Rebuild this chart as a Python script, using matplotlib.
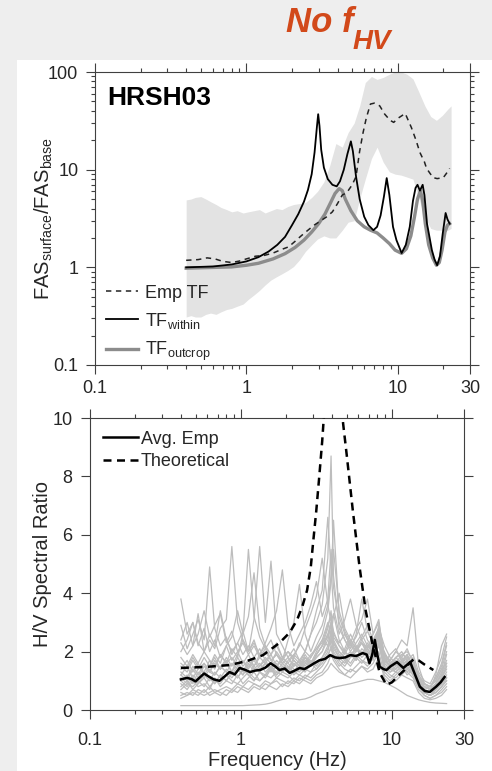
import matplotlib
matplotlib.use('Agg')
import matplotlib.pyplot as plt
from matplotlib.lines import Line2D
from matplotlib.patches import Rectangle
from matplotlib.ticker import FixedLocator, FixedFormatter, NullFormatter

plt.rcParams['font.family'] = 'Liberation Sans'
plt.rcParams['mathtext.fontset'] = 'custom'
plt.rcParams['mathtext.rm'] = 'Liberation Sans'
plt.rcParams['mathtext.it'] = 'Liberation Sans:italic'
plt.rcParams['mathtext.bf'] = 'Liberation Sans:bold'

# ---------------- top panel: transfer functions ----------------
band_f = [0.40, 0.43, 0.46, 0.50, 0.54, 0.58, 0.63, 0.68, 0.74, 0.80, 0.87, 0.95,
          1.03, 1.12, 1.22, 1.33, 1.45, 1.58, 1.72, 1.88, 2.05, 2.25, 2.45, 2.70,
          2.95, 3.25, 3.55, 3.90, 4.30, 4.70, 5.15, 5.60, 6.10, 6.70, 7.30, 8.00,
          8.80, 9.60, 10.5, 11.5, 12.6, 13.8, 15.1, 16.5, 18.0, 19.7, 21.5, 22.5]
band_hi = [4.9, 5.0, 5.2, 5.3, 5.0, 4.7, 4.4, 4.1, 3.9, 3.7, 3.8, 3.6,
           3.7, 3.8, 3.9, 3.6, 3.8, 4.0, 3.9, 4.2, 4.4, 4.5, 4.6, 5.2,
           6.0, 7.5, 11.0, 18.5, 17.0, 24, 30, 45, 78, 90, 84, 88,
           95, 100, 100, 95, 85, 62, 45, 35, 32, 36, 42, 45]
band_lo = [0.31, 0.32, 0.31, 0.31, 0.33, 0.34, 0.33, 0.35, 0.37, 0.38, 0.40, 0.42,
           0.47, 0.52, 0.58, 0.66, 0.74, 0.80, 0.86, 0.93, 1.02, 1.20, 1.45, 1.70,
           1.95, 2.10, 2.00, 2.00, 2.40, 2.90, 3.00, 5.00, 8.00, 13.0, 17.0, 12.0,
           9.5, 9.0, 8.8, 8.4, 8.0, 5.0, 3.3, 2.5, 2.4, 2.4, 2.4, 2.5]

emp_f = [0.40, 0.48, 0.55, 0.62, 0.70, 0.80, 0.90, 1.00, 1.15, 1.30, 1.50, 1.70,
         1.90, 2.10, 2.30, 2.55, 2.80, 3.10, 3.40, 3.70, 4.00, 4.30, 4.60, 5.00,
         5.30, 5.60, 5.90, 6.20, 6.60, 7.00, 7.60, 8.20, 8.90, 9.40, 10.0, 11.2,
         12.3, 13.2, 14.0, 15.0, 15.5, 16.3, 17.1, 18.2, 19.2, 20.0, 21.0, 22.0]
emp_v = [1.18, 1.20, 1.25, 1.22, 1.15, 1.12, 1.16, 1.22, 1.30, 1.32, 1.40, 1.52,
         1.62, 1.85, 2.10, 2.40, 2.70, 3.00, 3.30, 3.70, 4.50, 5.50, 5.80, 7.00,
         8.50, 15.5, 24, 34, 47, 48, 45, 37, 32, 30.5, 33.5, 37.6,
         27, 20, 15, 12, 10.3, 9.2, 8.3, 8.1, 8.2, 8.3, 9.2, 10.3]

within_f = [0.40, 0.60, 0.80, 1.00, 1.20, 1.40, 1.60, 1.80, 2.00, 2.20, 2.40, 2.55,
            2.70, 2.82, 2.92, 2.98, 3.04, 3.12, 3.25, 3.45, 3.70, 3.95, 4.15, 4.40,
            4.65, 4.90, 5.05, 5.30, 5.60, 6.00, 6.40, 6.90, 7.30, 7.70, 8.10, 8.45,
            8.80, 9.30, 9.80, 10.6, 11.3, 12.0, 12.6, 13.1, 13.5, 14.0, 14.6, 15.0,
            15.6, 16.8, 17.5, 18.2, 19.0, 19.8, 20.7, 21.3, 22.0]
within_v = [1.00, 1.02, 1.07, 1.15, 1.27, 1.45, 1.70, 2.05, 2.70, 3.50, 4.70, 6.2,
            9.0, 15.0, 27, 37, 28, 16, 10.5, 8.0, 7.0, 6.75, 7.6, 10.0,
            14.5, 19.5, 15.5, 8.5, 5.0, 3.3, 2.7, 2.4, 2.6, 3.4, 5.3, 8.2,
            5.5, 2.6, 1.9, 1.4, 1.7, 2.6, 4.8, 6.5, 7.0, 6.1, 7.0, 5.5,
            2.8, 1.5, 1.2, 1.05, 1.3, 2.2, 3.6, 3.1, 2.8]

outcrop_f = [0.40, 0.80, 1.00, 1.20, 1.50, 1.80, 2.10, 2.40, 2.70, 3.00, 3.30, 3.60,
             3.85, 4.10, 4.30, 4.50, 4.90, 5.40, 6.00, 6.60, 7.30, 8.00, 8.80, 9.60,
             10.6, 11.4, 12.2, 12.9, 13.5, 14.1, 14.6, 15.2, 16.0, 17.0, 18.0, 18.8,
             19.6, 20.5, 21.3, 22.0]
outcrop_v = [0.98, 1.01, 1.05, 1.10, 1.22, 1.38, 1.60, 1.90, 2.30, 2.80, 3.50, 4.60,
             5.70, 6.40, 6.10, 5.00, 3.80, 3.00, 2.60, 2.40, 2.25, 2.00, 1.75, 1.50,
             1.39, 1.55, 2.10, 3.30, 5.00, 6.10, 4.80, 2.80, 1.70, 1.25, 1.05, 1.12,
             1.50, 2.30, 2.70, 2.80]

# ---------------- bottom panel: H/V spectral ratios ----------------
hv_f = [0.40, 0.44, 0.48, 0.52, 0.57, 0.62, 0.67, 0.73, 0.80, 0.87, 0.95, 1.03,
        1.12, 1.22, 1.33, 1.45, 1.58, 1.72, 1.88, 2.05, 2.24, 2.44, 2.66, 2.90,
        3.16, 3.45, 3.76, 3.95, 4.10, 4.47, 4.87, 5.31, 5.79, 6.31, 6.88, 7.50,
        8.18, 8.91, 9.72, 10.6, 11.6, 12.6, 13.8, 15.0, 16.4, 17.9, 19.5, 21.3, 23.0]

hv_records = [
    [3.8, 2.6, 3.0, 2.2, 2.8, 2.0, 2.4, 1.8, 2.2, 1.7, 2.0, 1.6, 1.9, 1.5, 1.8, 1.6, 1.4,
     1.7, 1.5, 1.3, 1.6, 1.4, 1.7, 1.5, 1.8, 2.0, 2.6, 2.2, 1.9, 1.7, 2.0, 1.8, 2.2, 1.9,
     2.1, 1.8, 2.6, 1.7, 1.5, 1.8, 1.6, 1.9, 1.4, 1.1, 0.9, 0.8, 1.0, 1.4, 1.6],
    [2.9, 2.1, 2.6, 3.1, 2.4, 4.9, 2.8, 2.2, 2.5, 1.9, 2.3, 2.7, 2.0, 2.4, 1.8, 2.1, 1.7,
     1.9, 1.6, 1.4, 1.7, 1.5, 1.9, 1.6, 2.0, 2.4, 3.0, 2.6, 2.2, 1.8, 1.6, 1.9, 1.7, 2.0,
     1.8, 2.2, 2.4, 1.6, 1.9, 2.1, 1.7, 1.5, 1.8, 1.0, 0.8, 0.7, 0.9, 1.2, 1.9],
    [2.3, 1.9, 2.2, 3.3, 2.0, 2.4, 2.1, 2.8, 3.1, 5.6, 3.0, 2.4, 2.0, 2.3, 1.9, 2.2, 1.7,
     1.5, 1.8, 1.6, 1.4, 1.3, 1.6, 1.5, 1.9, 2.2, 2.8, 3.4, 2.4, 2.0, 1.8, 1.6, 1.9, 1.7,
     1.5, 1.8, 2.2, 2.0, 1.6, 1.4, 1.7, 1.9, 1.5, 0.9, 0.7, 0.8, 1.1, 1.5, 2.2],
    [1.5, 1.3, 1.7, 1.4, 1.8, 1.5, 1.9, 1.6, 2.2, 2.5, 3.4, 2.6, 5.5, 3.2, 2.5, 2.1, 2.4,
     1.9, 1.7, 2.0, 1.8, 2.3, 2.0, 2.6, 3.0, 3.6, 5.2, 8.7, 4.6, 2.8, 2.4, 2.0, 2.3, 2.6,
     2.2, 2.0, 2.9, 1.8, 1.5, 1.7, 1.4, 1.6, 1.3, 0.9, 0.6, 0.5, 0.7, 1.0, 1.3],
    [1.2, 1.0, 1.4, 1.1, 1.5, 1.3, 1.6, 1.4, 1.8, 1.5, 1.9, 2.4, 2.0, 3.1, 5.6, 3.0, 5.1,
     2.6, 2.2, 1.8, 2.1, 1.7, 2.0, 1.8, 2.2, 2.6, 3.4, 4.4, 6.5, 3.2, 2.6, 2.2, 2.5, 3.0,
     2.4, 2.1, 2.5, 1.9, 1.6, 1.4, 1.6, 1.3, 1.5, 1.0, 0.7, 0.6, 0.8, 1.1, 1.5],
    [1.0, 0.8, 1.1, 0.9, 1.2, 1.0, 1.3, 1.1, 1.4, 1.2, 1.5, 1.3, 1.7, 1.5, 1.9, 2.3, 2.8,
     3.4, 4.8, 2.9, 2.2, 2.6, 3.0, 3.6, 4.4, 3.2, 3.8, 5.5, 4.2, 3.0, 2.4, 2.1, 2.6, 3.8,
     2.7, 2.3, 2.2, 1.8, 1.5, 1.3, 1.5, 1.2, 1.4, 0.8, 0.6, 0.5, 0.7, 0.9, 1.1],
    [0.7, 0.9, 0.8, 1.0, 0.8, 1.1, 0.9, 1.2, 1.0, 1.3, 1.1, 1.4, 1.2, 1.0, 1.3, 1.1, 1.4,
     1.2, 1.5, 1.3, 1.6, 1.4, 1.8, 1.5, 1.9, 2.2, 2.6, 3.0, 2.5, 2.2, 1.9, 2.3, 2.8, 3.1,
     3.8, 2.6, 3.1, 1.6, 1.4, 1.3, 1.5, 1.7, 1.4, 0.9, 0.6, 0.5, 0.6, 0.8, 1.0],
    [0.5, 0.6, 0.5, 0.7, 0.6, 0.8, 0.6, 0.7, 0.8, 0.7, 0.9, 0.8, 1.0, 0.9, 0.8, 1.0, 0.9,
     1.1, 1.0, 0.9, 1.1, 1.0, 1.2, 1.1, 1.3, 1.5, 1.8, 2.2, 1.9, 1.6, 1.4, 1.3, 1.5, 1.7,
     1.6, 1.9, 2.3, 1.4, 1.2, 1.1, 1.3, 1.5, 1.2, 0.8, 0.5, 0.4, 0.5, 0.6, 0.8],
    [0.4, 0.5, 0.6, 0.5, 0.7, 0.5, 0.6, 0.5, 0.7, 0.6, 0.8, 0.7, 0.6, 0.8, 0.7, 0.9, 0.8,
     0.7, 0.9, 0.8, 1.0, 0.9, 1.1, 1.0, 1.2, 1.3, 1.6, 1.9, 1.7, 1.4, 1.2, 1.1, 1.3, 1.5,
     1.4, 1.6, 2.0, 1.2, 1.0, 1.2, 1.4, 1.3, 1.1, 0.7, 0.5, 0.4, 0.5, 0.7, 0.9],
    [1.3, 1.1, 1.5, 1.2, 1.6, 1.3, 1.7, 1.4, 1.6, 1.3, 1.8, 1.5, 1.7, 1.4, 1.6, 1.3, 1.5,
     1.2, 1.4, 1.3, 1.5, 1.7, 1.4, 1.6, 1.8, 2.0, 2.4, 2.9, 2.3, 1.9, 1.7, 1.9, 2.1, 1.8,
     2.0, 2.3, 2.7, 1.9, 1.7, 2.0, 2.4, 2.2, 3.5, 1.5, 0.9, 0.7, 1.2, 2.2, 2.6],
    [1.8, 1.5, 1.9, 1.6, 2.0, 1.7, 1.5, 1.9, 1.6, 1.8, 1.5, 1.7, 1.4, 1.8, 1.5, 1.7, 1.4,
     1.6, 1.3, 1.5, 1.2, 1.4, 1.3, 1.6, 1.4, 1.7, 2.0, 2.5, 2.1, 1.8, 2.1, 2.6, 2.2, 1.9,
     2.3, 2.0, 2.8, 2.2, 1.8, 1.6, 1.9, 1.8, 1.6, 1.1, 0.8, 0.7, 0.9, 1.3, 1.7],
    [1.0, 1.2, 0.9, 1.3, 1.1, 1.4, 1.2, 1.5, 1.3, 1.1, 1.4, 1.2, 1.6, 1.3, 1.5, 1.8, 1.6,
     2.0, 1.7, 2.4, 3.0, 4.3, 2.6, 2.0, 2.5, 2.9, 3.6, 4.6, 5.5, 3.4, 2.7, 2.3, 2.0, 2.4,
     2.1, 2.6, 3.0, 1.9, 1.7, 1.5, 1.8, 1.6, 1.4, 1.0, 0.7, 0.6, 0.7, 0.9, 1.2],
    [0.8, 1.0, 0.7, 0.9, 1.1, 0.8, 1.0, 0.9, 1.2, 1.0, 0.9, 1.1, 1.3, 1.1, 1.0, 1.2, 1.1,
     1.3, 1.2, 1.1, 1.3, 1.2, 1.4, 1.3, 1.6, 1.8, 2.1, 2.4, 2.0, 1.7, 1.5, 1.8, 2.0, 2.3,
     1.9, 2.1, 2.5, 1.7, 1.5, 1.8, 2.0, 1.7, 1.9, 1.3, 1.0, 0.9, 1.3, 1.8, 2.5],
    [0.15, 0.15, 0.15, 0.15, 0.15, 0.15, 0.15, 0.15, 0.15, 0.15, 0.15, 0.15, 0.16, 0.17,
     0.18, 0.20, 0.24, 0.30, 0.36, 0.40, 0.38, 0.35, 0.38, 0.45, 0.55, 0.62, 0.70, 0.75,
     0.78, 0.82, 0.86, 0.90, 0.95, 1.00, 1.05, 1.05, 1.00, 0.95, 0.85, 0.75, 0.62, 0.50,
     0.42, 0.35, 0.30, 0.26, 0.24, 0.23, 0.22],
    [1.1, 0.9, 1.2, 1.0, 1.3, 1.1, 0.9, 1.2, 1.0, 1.3, 1.1, 1.4, 1.2, 1.0, 1.3, 1.2, 1.5,
     1.3, 1.6, 1.4, 1.8, 1.6, 2.0, 2.6, 3.4, 4.1, 6.6, 4.8, 3.5, 2.6, 3.1, 3.8, 2.9, 2.4,
     2.7, 2.3, 2.4, 1.6, 1.4, 1.6, 1.3, 1.5, 1.2, 0.8, 0.6, 0.5, 0.6, 0.8, 1.0],
    [2.4, 3.0, 2.2, 2.6, 3.4, 2.5, 2.9, 3.3, 2.3, 2.7, 2.0, 2.3, 1.9, 2.2, 1.8, 2.0, 1.7,
     1.9, 1.6, 1.8, 1.5, 1.7, 1.6, 1.9, 2.1, 2.3, 2.9, 3.2, 2.7, 2.2, 2.0, 2.4, 2.1, 2.5,
     2.9, 2.4, 2.6, 1.8, 1.7, 2.0, 1.8, 2.1, 1.6, 1.2, 0.9, 0.8, 1.0, 1.4, 2.0],
    [1.6, 1.4, 1.8, 1.5, 1.3, 1.7, 1.4, 1.9, 1.6, 2.1, 1.8, 2.6, 3.2, 4.7, 2.8, 2.2, 1.9,
     2.3, 1.8, 1.6, 1.9, 1.7, 1.5, 1.8, 2.1, 2.4, 2.2, 2.7, 2.3, 2.0, 1.8, 2.0, 1.7, 2.1,
     1.9, 2.2, 2.5, 1.5, 1.3, 1.5, 1.7, 1.4, 1.6, 1.0, 0.7, 0.6, 0.8, 1.1, 1.4],
    [0.9, 0.7, 1.0, 0.8, 0.9, 0.7, 1.1, 0.8, 1.0, 0.9, 1.2, 0.9, 1.1, 1.3, 1.0, 1.2, 1.4,
     1.1, 1.3, 1.2, 1.0, 1.2, 1.1, 1.3, 1.4, 1.6, 1.9, 2.1, 1.8, 1.5, 1.7, 1.5, 1.8, 1.6,
     1.9, 1.7, 2.4, 1.3, 1.1, 1.3, 1.2, 1.4, 1.2, 0.8, 0.6, 0.5, 0.6, 0.8, 1.1],
    [1.4, 1.7, 1.3, 1.6, 1.2, 1.5, 1.8, 1.4, 1.7, 1.3, 1.6, 1.4, 1.2, 1.5, 1.3, 1.6, 1.9,
     1.5, 1.3, 1.7, 1.9, 2.2, 2.8, 3.3, 3.9, 5.2, 3.6, 3.0, 3.3, 2.4, 2.0, 1.8, 2.1, 2.3,
     2.0, 1.8, 2.2, 1.5, 1.3, 1.4, 1.6, 1.8, 1.5, 1.1, 0.8, 0.7, 0.9, 1.2, 1.6],
    [2.0, 2.4, 3.0, 2.3, 2.0, 2.6, 2.2, 3.4, 2.4, 2.0, 2.3, 1.9, 2.2, 1.8, 2.1, 1.7, 1.9,
     2.2, 1.8, 2.0, 1.7, 1.5, 1.8, 1.6, 1.9, 2.2, 2.5, 3.0, 2.6, 2.3, 2.6, 2.2, 2.0, 2.3,
     2.1, 2.4, 2.8, 1.9, 1.6, 1.8, 1.9, 2.0, 1.7, 1.2, 0.9, 0.8, 1.1, 1.6, 2.3],
    [0.6, 0.5, 0.7, 0.6, 0.5, 0.6, 0.7, 0.6, 0.5, 0.7, 0.6, 0.8, 0.7, 0.9, 0.8, 0.7, 0.9,
     1.0, 0.8, 1.0, 0.9, 1.1, 1.0, 0.9, 1.1, 1.2, 1.4, 1.6, 1.5, 1.3, 1.2, 1.4, 1.3, 1.5,
     1.3, 1.4, 1.8, 1.1, 0.9, 1.0, 1.2, 1.1, 1.0, 0.6, 0.4, 0.35, 0.4, 0.5, 0.7],
    [1.2, 1.5, 1.1, 1.4, 1.6, 1.3, 1.2, 1.5, 1.3, 1.6, 1.4, 1.2, 1.5, 1.7, 1.4, 1.6, 1.3,
     1.5, 1.7, 1.5, 1.3, 1.6, 1.4, 1.7, 1.5, 1.8, 2.2, 2.6, 3.2, 4.0, 2.8, 2.4, 2.1, 1.9,
     2.2, 2.0, 2.7, 1.7, 1.5, 1.7, 1.5, 1.7, 1.3, 0.9, 0.7, 0.6, 0.8, 1.1, 1.5],
]

avg_f = [0.40, 0.44, 0.47, 0.50, 0.53, 0.57, 0.61, 0.66, 0.72, 0.78, 0.84, 0.91,
         0.98, 1.06, 1.15, 1.24, 1.34, 1.45, 1.57, 1.68, 1.80, 1.95, 2.10, 2.27,
         2.45, 2.63, 2.80, 3.05, 3.30, 3.60, 3.90, 4.20, 4.50, 4.90, 5.30, 5.80,
         6.40, 6.80, 7.10, 7.40, 7.70, 8.00, 8.30, 8.80, 9.20, 9.80, 10.8, 11.9,
         12.6, 13.2, 14.0, 15.3, 16.5, 17.8, 19.6, 21.0, 22.3]
avg_v = [1.05, 1.10, 1.06, 0.98, 1.10, 1.25, 1.15, 1.05, 1.00, 1.15, 1.30, 1.22,
         1.44, 1.38, 1.30, 1.35, 1.37, 1.45, 1.60, 1.50, 1.37, 1.42, 1.27, 1.35,
         1.44, 1.40, 1.48, 1.60, 1.70, 1.75, 1.88, 1.80, 1.78, 1.80, 1.88, 1.85,
         1.95, 1.90, 1.60, 1.90, 2.40, 1.90, 1.48, 1.40, 1.37, 1.50, 1.64, 1.44,
         1.55, 1.64, 1.30, 0.80, 0.65, 0.62, 0.80, 0.95, 1.13]

theo_f = [0.40, 0.60, 0.84, 1.10, 1.40, 1.80, 2.10, 2.35, 2.55, 2.74, 2.90, 3.00,
          3.15, 3.30, 3.45, 3.60, 3.80, 4.00, 4.20, 4.50, 4.75, 5.00, 5.50, 6.10,
          6.70, 7.40, 8.30, 9.20, 10.0, 10.8, 12.0, 13.0, 14.0, 15.0, 16.5, 18.8]
theo_v = [1.44, 1.48, 1.54, 1.68, 1.88, 2.30, 2.65, 3.08, 3.55, 4.10, 4.90, 5.70,
          6.80, 8.00, 9.20, 10.6, 13.0, 15.0, 14.0, 11.2, 9.8, 8.8, 6.85, 4.9,
          3.4, 2.3, 1.27, 0.86, 0.95, 1.13, 1.35, 1.60, 1.75, 1.70, 1.55, 1.37]

freq_ticks = [0.1, 1, 10, 30]
freq_ticklabels = ['0.1', '1', '10', '30']
tf_ticks = [0.1, 1, 10, 100]
tf_ticklabels = ['0.1', '1', '10', '100']
hv_ticks = [0, 2, 4, 6, 8, 10]

AX_COL = '#404040'
TXT_COL = '#262626'


def style_axes(ax, xpad, ypad):
    for s in ax.spines.values():
        s.set_color(AX_COL)
        s.set_linewidth(0.8)
    ax.tick_params(which='both', direction='out', top=True, right=True,
                   color=AX_COL, labelcolor=TXT_COL, labelsize=13, width=0.8)
    ax.tick_params(which='major', length=6.5)
    ax.tick_params(which='minor', length=3)
    ax.tick_params(axis='x', pad=xpad)
    ax.tick_params(axis='y', pad=ypad)


def log_freq_axis(ax):
    ax.set_xscale('log')
    ax.set_xlim(0.1, 30)
    ax.xaxis.set_major_locator(FixedLocator(freq_ticks))
    ax.xaxis.set_major_formatter(FixedFormatter(freq_ticklabels))
    minors = [m * d for d in (0.1, 1, 10) for m in range(2, 10) if m * d < 30]
    ax.xaxis.set_minor_locator(FixedLocator(minors))
    ax.xaxis.set_minor_formatter(NullFormatter())


fig = plt.figure(figsize=(4.92, 7.71), dpi=100)
fig.patch.set_facecolor('#eeeeee')
fig.add_artist(Rectangle((17 / 492, 0), 1 - 17 / 492, 1 - 60 / 771,
                         transform=fig.transFigure, facecolor='white',
                         edgecolor='none', zorder=-1))

# title "No f_HV"
fig.text(0.719, 0.9585, 'No f', color='#d2491a', fontsize=25, fontweight='bold',
         fontstyle='italic', ha='right', va='baseline')
fig.text(0.717, 0.936, 'HV', color='#d2491a', fontsize=20, fontweight='bold',
         fontstyle='italic', ha='left', va='baseline')

# ---- top axes ----
ax1 = fig.add_axes([0.1931, 0.5266, 0.7622, 0.38])
ax1.fill_between(band_f, band_lo, band_hi, color='#e3e3e3', lw=0, zorder=1)
ax1.plot(emp_f, emp_v, color='#222222', lw=1.1, ls=(0, (3.5, 3)), zorder=3)
ax1.plot(outcrop_f, outcrop_v, color='#8c8c8c', lw=2.4, zorder=2)
ax1.plot(within_f, within_v, color='black', lw=1.3, zorder=4)
log_freq_axis(ax1)
ax1.set_yscale('log')
ax1.set_ylim(0.1, 100)
ax1.yaxis.set_major_locator(FixedLocator(tf_ticks))
ax1.yaxis.set_major_formatter(FixedFormatter(tf_ticklabels))
ax1.yaxis.set_minor_locator(FixedLocator(
    [m * d for d in (0.1, 1, 10) for m in range(2, 10)]))
ax1.yaxis.set_minor_formatter(NullFormatter())
style_axes(ax1, xpad=4, ypad=5.5)
ax1.set_ylabel(r'FAS$_{\mathrm{surface}}$/FAS$_{\mathrm{base}}$', fontsize=14.5, color=TXT_COL)
ax1.yaxis.set_label_coords(-0.107, 0.5)
ax1.text(0.032, 0.887, 'HRSH03', transform=ax1.transAxes, fontsize=19,
         fontweight='bold', color='black', va='baseline')

h_top = [Line2D([0], [0], color='#222222', lw=1.1, ls=(0, (3.5, 3))),
         Line2D([0], [0], color='black', lw=1.3),
         Line2D([0], [0], color='#8c8c8c', lw=2.4)]
ax1.legend(h_top, ['Emp TF', r'TF$_{\mathrm{within}}$', r'TF$_{\mathrm{outcrop}}$'],
           loc='lower left', bbox_to_anchor=(0.0, -0.03), frameon=False,
           fontsize=13, handlelength=1.8, handletextpad=0.35, labelspacing=0.5,
           borderaxespad=0.2, labelcolor=TXT_COL)

# ---- bottom axes ----
ax2 = fig.add_axes([0.1829, 0.0791, 0.7602, 0.3787])
for rec in hv_records:
    ax2.plot(hv_f, rec, color='#bdbdbd', lw=0.9, zorder=1)
ax2.plot(theo_f, theo_v, color='black', lw=1.8, ls=(0, (3.2, 2.2)), zorder=3)
ax2.plot(avg_f, avg_v, color='black', lw=1.8, zorder=4)
log_freq_axis(ax2)
ax2.set_ylim(0, 10)
ax2.yaxis.set_major_locator(FixedLocator(hv_ticks))
style_axes(ax2, xpad=9, ypad=6)
ax2.set_ylabel('H/V Spectral Ratio', fontsize=14.5, color=TXT_COL)
ax2.yaxis.set_label_coords(-0.102, 0.5)
ax2.set_xlabel('Frequency (Hz)', fontsize=14.5, color=TXT_COL)
ax2.xaxis.set_label_coords(0.5, -0.14)

h_bot = [Line2D([0], [0], color='black', lw=1.8),
         Line2D([0], [0], color='black', lw=1.8, ls=(0, (3.2, 2.2)))]
ax2.legend(h_bot, ['Avg. Emp', 'Theoretical'], loc='upper left',
           bbox_to_anchor=(0.0, 1.0), frameon=False, fontsize=13,
           handlelength=1.95, handletextpad=0.15, labelspacing=0.3,
           borderaxespad=0.3, labelcolor=TXT_COL)

fig.savefig('out.png', dpi=100, facecolor=fig.get_facecolor())
